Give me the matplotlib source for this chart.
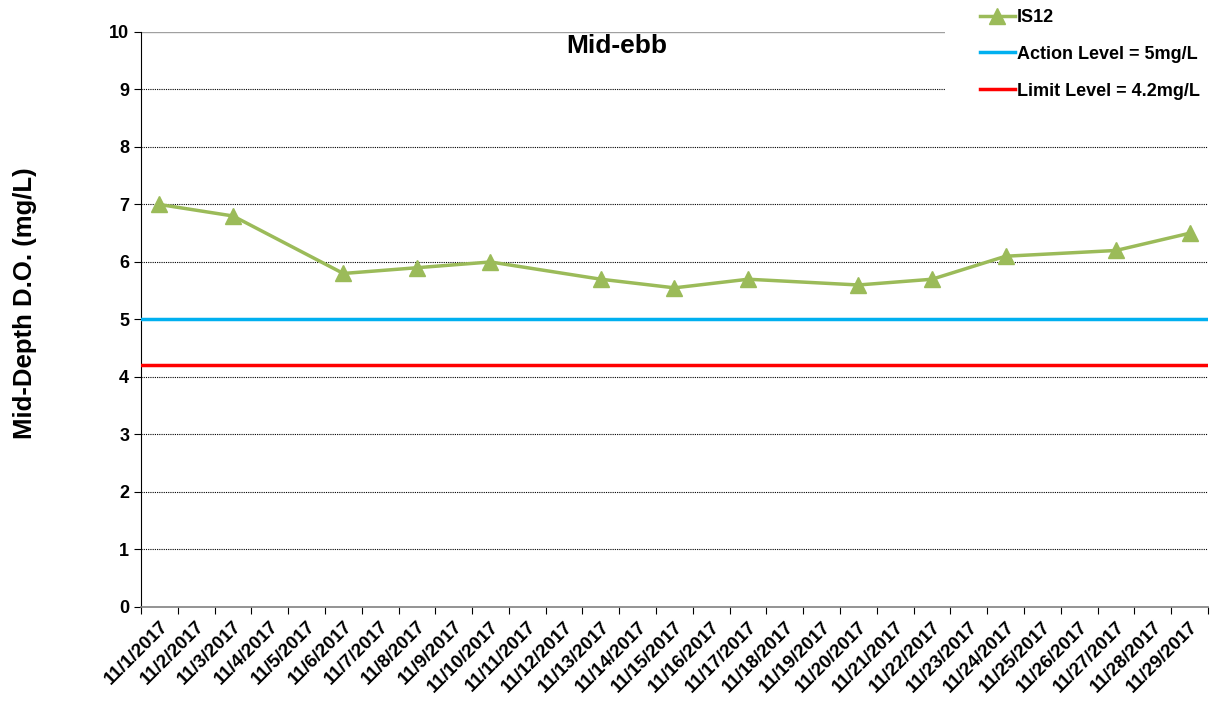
import numpy as np
import matplotlib.pyplot as plt
from matplotlib.patches import Rectangle

plt.rcParams['font.family'] = ['Liberation Sans', 'DejaVu Sans']
plt.rcParams['font.weight'] = 'bold'

# Data
dates = ["11/%d/2017" % d for d in range(1, 30)]
is12_dates = ["11/1/2017", "11/3/2017", "11/6/2017", "11/8/2017", "11/10/2017",
              "11/13/2017", "11/15/2017", "11/17/2017", "11/20/2017", "11/22/2017",
              "11/24/2017", "11/27/2017", "11/29/2017"]
is12_values = [7.0, 6.8, 5.8, 5.9, 6.0, 5.7, 5.55, 5.7, 5.6, 5.7, 6.1, 6.2, 6.5]
action_level = 5.0
limit_level = 4.2

fig = plt.figure(figsize=(12.11, 7.01), dpi=100)
ax = fig.add_axes([0.1164, 0.1341, 0.8811, 0.8203])

n = len(dates)
ax.set_xlim(-0.5, n - 0.5)
ax.set_ylim(0, 10)

# gridlines
for y in range(1, 10):
    ax.axhline(y, color='black', lw=0.8, ls=(0, (1, 1)), zorder=1)
ax.axhline(10, color='#A0A0A0', lw=1.0, zorder=1)

x_is12 = [dates.index(d) for d in is12_dates]
ax.plot(x_is12, is12_values, color='#9BBB59', lw=2.5, marker='^', ms=11,
        label='IS12', zorder=4)
ax.axhline(action_level, color='#00B0F0', lw=2.5, label='Action Level = 5mg/L', zorder=3)
ax.axhline(limit_level, color='#FF0000', lw=2.5, label='Limit Level = 4.2mg/L', zorder=3)

# axes styling
for s in ['top', 'right']:
    ax.spines[s].set_visible(False)
ax.spines['left'].set_color('black')
ax.spines['bottom'].set_color('#808080')
ax.spines['bottom'].set_linewidth(1.2)

ax.set_yticks(range(0, 11))
ax.tick_params(axis='y', labelsize=13, length=5, direction='out')

ax.set_xticks(np.arange(-0.5, n, 1.0))
ax.set_xticklabels([])
ax.tick_params(axis='x', which='major', length=5, direction='out', color='black')
ax.set_xticks(np.arange(n), minor=True)
ax.set_xticklabels(dates, minor=True, rotation=45, ha='right',
                   rotation_mode='anchor', fontsize=13.5)
ax.tick_params(axis='x', which='minor', length=0, pad=8)

ax.set_ylabel('Mid-Depth D.O. (mg/L)', fontsize=18.5, fontweight='bold')
ax.yaxis.set_label_coords(-0.0975, 0.529)
ax.text(0.446, 0.975, 'Mid-ebb', transform=ax.transAxes, ha='center', va='center',
        fontsize=19, fontweight='bold')

# white legend area covering the gridlines
fig.patches.append(Rectangle((945 / 1211, 1 - 108 / 701), 266 / 1211, 108 / 701,
                             transform=fig.transFigure, facecolor='white',
                             edgecolor='none', zorder=5))

leg = fig.legend(loc='upper left', bbox_to_anchor=(0.797, 1.008), fontsize=13,
                 frameon=False, handlelength=1.95, handletextpad=0.1,
                 labelspacing=1.1, borderpad=0.3)
leg.set_zorder(10)

fig.savefig('out.png', dpi=100)
